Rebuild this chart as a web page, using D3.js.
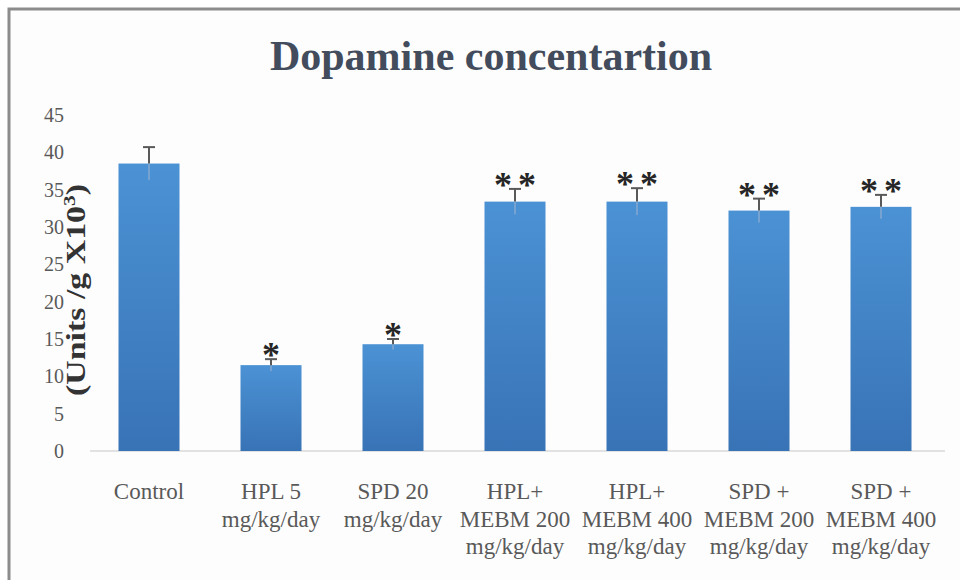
<!DOCTYPE html>
<html>
<head>
<meta charset="utf-8">
<script src="https://cdn.jsdelivr.net/npm/d3@7"></script>
<style>
  body { margin: 0; background: #fff; }
  svg { display: block; }
</style>
</head>
<body>
<svg></svg>
<script>
// groups, means and SEM
const groups = ['Control', 'HPL 5', 'SPD 20', 'HPL+ 200', 'HPL+ 400', 'SPD + 200', 'SPD + 400'];
const labelLines = [
  ['Control'],
  ['HPL 5', 'mg/kg/day'],
  ['SPD 20', 'mg/kg/day'],
  ['HPL+', 'MEBM 200', 'mg/kg/day'],
  ['HPL+', 'MEBM 400', 'mg/kg/day'],
  ['SPD +', 'MEBM 200', 'mg/kg/day'],
  ['SPD +', 'MEBM 400', 'mg/kg/day'],
];
const means = [38.5, 11.5, 14.3, 33.4, 33.4, 32.2, 32.7];
const errors = [2.2, 0.8, 0.7, 1.7, 1.8, 1.6, 1.6];
const stars = ['', '*', '*', '**', '**', '**', '**'];
const yTicks = [0, 5, 10, 15, 20, 25, 30, 35, 40, 45];

const width = 960;
const height = 580;
const serif = '"Liberation Serif", "DejaVu Serif", serif';

const svg = d3.select('svg').attr('width', width).attr('height', height);

// frame of the picture
svg.append('rect')
  .attr('x', 9).attr('y', 9)
  .attr('width', 1000).attr('height', 1000)
  .attr('fill', '#fdfdfd')
  .attr('stroke', '#8c8c8c')
  .attr('stroke-width', 3);

const defs = svg.append('defs');
const grad = defs.append('linearGradient')
  .attr('id', 'barGrad')
  .attr('x1', 0).attr('y1', 0).attr('x2', 0).attr('y2', 1);
grad.append('stop').attr('offset', '0%').attr('stop-color', '#4b92d4');
grad.append('stop').attr('offset', '100%').attr('stop-color', '#3873b6');

const x = d3.scaleBand()
  .domain(groups)
  .range([88, 942])
  .paddingInner(0.5)
  .paddingOuter(0.25);

const y = d3.scaleLinear()
  .domain([0, 45])
  .range([451, 115]);

// title
svg.append('text')
  .attr('x', 491)
  .attr('y', 70)
  .attr('text-anchor', 'middle')
  .style('font-family', serif)
  .style('font-weight', 'bold')
  .style('font-size', '42px')
  .style('fill', '#424c5c')
  .text('Dopamine concentartion');

// y axis (labels only)
const yAxis = d3.axisLeft(y).tickValues(yTicks).tickSize(0).tickPadding(0);
const gy = svg.append('g')
  .attr('transform', 'translate(64,0)')
  .call(yAxis);
gy.attr('font-family', null);
gy.select('.domain').remove();
gy.selectAll('text')
  .style('font-family', serif)
  .style('font-size', '20px')
  .style('fill', '#595959');

// baseline
svg.append('line')
  .attr('x1', 90).attr('x2', 945)
  .attr('y1', y(0)).attr('y2', y(0))
  .attr('stroke', '#d9d9d9')
  .attr('stroke-width', 1.5);

// bars
svg.selectAll('rect.bar')
  .data(groups)
  .enter()
  .append('rect')
  .attr('class', 'bar')
  .attr('x', (d) => x(d))
  .attr('width', x.bandwidth())
  .attr('y', (d, i) => y(means[i]))
  .attr('height', (d, i) => y(0) - y(means[i]))
  .attr('fill', 'url(#barGrad)');

// error bars: faint lower half inside the bar, dark upper half with cap
const capHalf = 6;
const eb = svg.selectAll('g.err')
  .data(groups)
  .enter()
  .append('g')
  .attr('class', 'err');
eb.append('line')
  .attr('x1', (d) => x(d) + x.bandwidth() / 2)
  .attr('x2', (d) => x(d) + x.bandwidth() / 2)
  .attr('y1', (d, i) => y(means[i]))
  .attr('y2', (d, i) => y(means[i] - errors[i]))
  .attr('stroke', '#86a9d0')
  .attr('stroke-width', 1.5);
eb.append('line')
  .attr('x1', (d) => x(d) + x.bandwidth() / 2)
  .attr('x2', (d) => x(d) + x.bandwidth() / 2)
  .attr('y1', (d, i) => y(means[i]))
  .attr('y2', (d, i) => y(means[i] + errors[i]))
  .attr('stroke', '#595959')
  .attr('stroke-width', 2);
eb.append('line')
  .attr('x1', (d) => x(d) + x.bandwidth() / 2 - capHalf)
  .attr('x2', (d) => x(d) + x.bandwidth() / 2 + capHalf)
  .attr('y1', (d, i) => y(means[i] + errors[i]))
  .attr('y2', (d, i) => y(means[i] + errors[i]))
  .attr('stroke', '#595959')
  .attr('stroke-width', 2);

// significance stars
svg.selectAll('text.star')
  .data(groups)
  .enter()
  .append('text')
  .attr('class', 'star')
  .attr('x', (d) => x(d) + x.bandwidth() / 2 + 3)
  .attr('y', (d, i) => y(means[i] + errors[i]) + 8)
  .attr('text-anchor', 'middle')
  .style('font-family', serif)
  .style('font-weight', 'bold')
  .style('font-size', '36px')
  .style('letter-spacing', '6px')
  .style('fill', '#262626')
  .text((d, i) => stars[i]);

// category labels
const xl = svg.selectAll('text.xlab')
  .data(groups)
  .enter()
  .append('text')
  .attr('class', 'xlab')
  .attr('text-anchor', 'middle')
  .style('font-family', serif)
  .style('font-size', '23px')
  .style('fill', '#595959');
xl.each(function (d, i) {
  const cx = x(d) + x.bandwidth() / 2;
  d3.select(this).selectAll('tspan')
    .data(labelLines[i])
    .enter()
    .append('tspan')
    .attr('x', cx)
    .attr('y', (t, j) => 499 + j * 27.5)
    .text((t) => t);
});

// y axis title
const yt = svg.append('text')
  .attr('transform', 'translate(85,290) rotate(-90)')
  .attr('text-anchor', 'middle')
  .attr('textLength', 212)
  .attr('lengthAdjust', 'spacingAndGlyphs')
  .style('font-family', serif)
  .style('font-weight', 'bold')
  .style('font-size', '27px')
  .style('fill', '#333333');
yt.append('tspan').text('(Units /g X10');
yt.append('tspan').attr('dy', -10).style('font-size', '17px').text('3');
yt.append('tspan').attr('dy', 10).text(')');
</script>
</body>
</html>
